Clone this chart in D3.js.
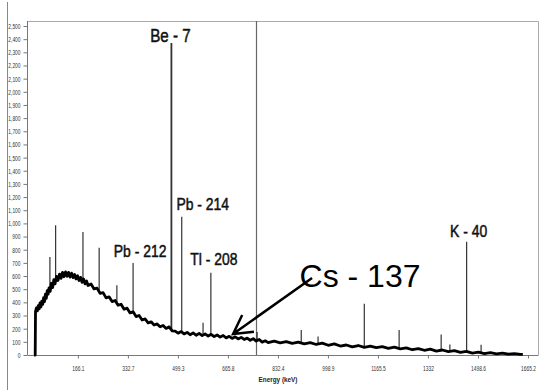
<!DOCTYPE html>
<html>
<head>
<meta charset="utf-8">
<script src="https://cdn.jsdelivr.net/npm/d3@7"></script>
<style>
  html, body { margin: 0; padding: 0; background: #fff; }
  svg { display: block; font-family: "Liberation Sans", Arial, sans-serif; }
</style>
</head>
<body>
<div id="chart"></div>
<script>
// Continuum of the gamma spectrum (keV, counts).
const energy = [20, 24, 25, 28, 31, 34, 37, 40, 43, 46, 49, 52, 55, 58, 61, 64, 67, 70, 74, 78, 82, 86, 90, 95,
  100, 105, 110, 115, 120, 125, 130, 135, 140, 145, 150, 155, 160, 165, 170, 175, 180, 185, 190, 195, 200,
  210, 220, 230, 240, 250, 260, 270, 280, 290, 300, 310, 320, 330, 340, 350, 360, 370, 380, 390, 400,
  410, 420, 430, 440, 450, 460, 470, 480, 490, 500, 510, 520, 530, 540, 550, 560, 570, 580, 590, 600,
  610, 620, 630, 640, 650, 660, 670, 680, 690, 700, 710, 720, 730, 740, 750, 760, 770, 780, 790, 800,
  820, 840, 860, 880, 900, 920, 940, 960, 980, 1000, 1020, 1040, 1060, 1080, 1100, 1120, 1140, 1160,
  1180, 1200, 1220, 1240, 1260, 1280, 1300, 1320, 1340, 1360, 1380, 1400, 1420, 1440, 1460, 1480,
  1500, 1520, 1540, 1560, 1580, 1600, 1620, 1640, 1648];
const counts = [0, 0, 330, 358, 335, 375, 350, 395, 365, 410, 385, 435, 405, 462, 430, 488, 462, 510, 484, 545, 512, 572, 540, 598,
  566, 615, 582, 628, 595, 632, 598, 628, 592, 622, 588, 612, 578, 602, 566, 590, 552, 578, 540, 562, 528,
  540, 502, 508, 468, 474, 434, 442, 406, 414, 378, 386, 348, 356, 320, 328, 292, 300, 266, 274, 244,
  252, 228, 236, 214, 224, 202, 214, 184, 182, 166, 178, 160, 172, 154, 168, 150, 164, 148, 160, 144,
  157, 140, 152, 136, 148, 130, 142, 126, 138, 122, 134, 118, 128, 112, 124, 106, 118, 98, 108, 94,
  106, 92, 102, 88, 98, 84, 94, 80, 90, 74, 84, 68, 76, 62, 72, 58, 68, 56,
  64, 50, 60, 46, 54, 40, 49, 36, 44, 30, 38, 26, 33, 20, 27, 15,
  22, 11, 18, 8, 14, 6, 11, 5, 5];

// Narrow photopeaks (keV, top counts).
const peakEnergy = [73, 92, 183, 237, 296, 350, 477.6, 512, 583, 609, 763, 910, 966, 1120, 1236, 1376, 1405, 1460.8, 1509];
const peakCounts = [745, 985, 935, 815, 530, 700, 2370, 1050, 245, 625, 175, 190, 140, 390, 190, 155, 80, 860, 78];

// Labelled nuclides and the peak each one sits over.
const nuclides = ["Be - 7", "Pb - 214", "Pb - 212", "Tl - 208", "K - 40"];
const nuclidePeak = [477.6, 512, 350, 609, 1460.8];

const xTicks = [166.1, 332.7, 499.3, 665.8, 832.4, 998.9, 1165.5, 1332, 1498.6, 1665.2];
const yTicks = d3.range(0, 2501, 100);

const W = 541, H = 390;
const m = { left: 28, right: 538, top: 21, bottom: 355 };

const x = d3.scaleLinear().domain([0, 1698.5]).range([m.left, m.right]);
const y = d3.scaleLinear().domain([0, 2538]).range([m.bottom, m.top]);

const svg = d3.select("#chart").append("svg")
  .attr("width", W)
  .attr("height", H);

svg.append("rect").attr("width", W).attr("height", H).attr("fill", "#fff");

// outer frame on the left edge of the screenshot
svg.append("line")
  .attr("x1", 7.5).attr("x2", 7.5).attr("y1", 2).attr("y2", H)
  .attr("stroke", "#888");

// plot box
svg.append("path")
  .attr("d", `M${m.left},${m.top + 0.5}H${m.right + 0.5}V${m.bottom}`)
  .attr("fill", "none")
  .attr("stroke", "#aaa");

// y axis
const yAxis = svg.append("g")
  .attr("transform", `translate(${m.left - 0.5},0)`)
  .call(d3.axisLeft(y).tickValues(yTicks).tickFormat(d3.format(",")).tickSize(4).tickPadding(3));
yAxis.select(".domain").attr("stroke", "#777").attr("d", `M0,${m.top}V${m.bottom}`);
yAxis.selectAll(".tick line").attr("stroke", "#777");
yAxis.selectAll(".tick text")
  .attr("x", null)
  .attr("transform", "translate(-7,0) scale(0.65,1)")
  .attr("font-size", 7.5)
  .attr("fill", "#333");

// x axis
const xAxis = svg.append("g")
  .attr("transform", `translate(0,${m.bottom + 0.5})`)
  .call(d3.axisBottom(x).tickValues(xTicks).tickFormat(d => String(d)).tickSize(3).tickPadding(7));
xAxis.select(".domain").attr("stroke", "#777").attr("d", `M${m.left - 0.5},0H${m.right + 0.5}`);
xAxis.selectAll(".tick line").attr("stroke", "#777");
xAxis.selectAll(".tick text")
  .attr("transform", "scale(0.65,1)")
  .attr("font-size", 7.5)
  .attr("fill", "#333");

svg.append("text")
  .attr("transform", "translate(278,382) scale(0.85,1)")
  .attr("text-anchor", "middle")
  .attr("font-size", 7.5)
  .attr("font-weight", "bold")
  .attr("fill", "#222")
  .text("Energy (keV)");

// cursor line
svg.append("line")
  .attr("x1", 256.5).attr("x2", 256.5).attr("y1", m.top).attr("y2", m.bottom)
  .attr("stroke", "#666").attr("stroke-width", 1.2);

// continuum
const spectrum = energy.map((e, i) => [e, counts[i]]);
const baseAt = e => {
  const i = d3.bisector(d => d[0]).right(spectrum, e);
  const a = spectrum[i - 1], b = spectrum[i];
  return a[1] + (b[1] - a[1]) * (e - a[0]) / (b[0] - a[0]);
};

svg.append("g")
  .selectAll("line")
  .data(peakEnergy)
  .join("line")
  .attr("x1", d => x(d)).attr("x2", d => x(d))
  .attr("y1", d => y(baseAt(d)))
  .attr("y2", (d, i) => y(peakCounts[i]))
  .attr("stroke", "#333")
  .attr("stroke-width", d => d === 477.6 ? 1.8 : 1.2);

svg.append("path")
  .datum(spectrum)
  .attr("fill", "none")
  .attr("stroke", "#000")
  .attr("stroke-width", 2.8)
  .attr("stroke-linejoin", "round")
  .attr("d", d3.line().x(d => x(d[0])).y(d => y(d[1])));

// nuclide labels over their peaks
const labelShift = [[-1, -1, 18.5], [21, -7, 17], [7, -6, 17], [3, -8, 17], [2, -5, 17]];
nuclides.forEach((name, i) => {
  const e = nuclidePeak[i];
  const peakTop = peakCounts[peakEnergy.indexOf(e)];
  const [dx, dy, fs] = labelShift[i];
  svg.append("text")
    .attr("transform", `translate(${x(e) + dx},${y(peakTop) + dy}) scale(0.82,1)`)
    .attr("text-anchor", "middle")
    .attr("font-size", fs)
    .attr("fill", "#111")
    .attr("stroke", "#111")
    .attr("stroke-width", 0.5)
    .text(name);
});

// Cs-137 call-out with arrow
const csTip = [683, 160], csTail = [946, 585];
const tx = x(csTip[0]), ty = y(csTip[1]);
const sx = x(csTail[0]), sy = y(csTail[1]);
const ang = Math.atan2(sy - ty, sx - tx);
const arm = 21, spread = 29 * Math.PI / 180;
svg.append("path")
  .attr("d", `M${sx},${sy}L${tx},${ty}` +
    `M${tx + arm * Math.cos(ang - spread)},${ty + arm * Math.sin(ang - spread)}L${tx},${ty}` +
    `L${tx + arm * Math.cos(ang + spread)},${ty + arm * Math.sin(ang + spread)}`)
  .attr("fill", "none")
  .attr("stroke", "#000")
  .attr("stroke-width", 2.5);

svg.append("text")
  .attr("x", 360).attr("y", 287)
  .attr("text-anchor", "middle")
  .attr("font-size", 32)
  .attr("fill", "#000")
  .text("Cs - 137");
</script>
</body>
</html>
